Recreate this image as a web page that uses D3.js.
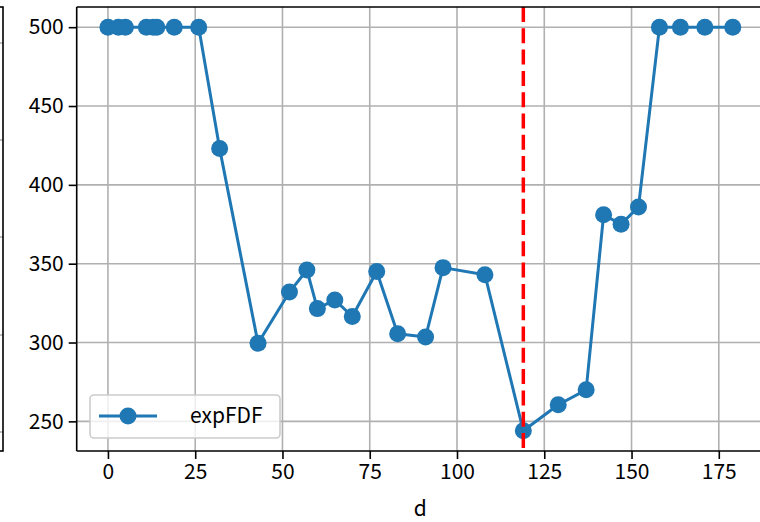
<!DOCTYPE html>
<html>
<head>
<meta charset="utf-8">
<script src="https://cdn.jsdelivr.net/npm/d3@7"></script>
<style>
  html, body { margin: 0; padding: 0; background: #fff; }
  svg { display: block; }
  text { font-family: "Noto Sans CJK JP", "DejaVu Sans", sans-serif; }
</style>
</head>
<body>
<svg id="chart" width="760" height="522"></svg>
<script>
// ---- data ----
const dValues = [0, 3, 5, 11, 13, 14, 19, 26, 32, 43, 52, 57, 60, 65, 70, 77, 83, 91, 96, 108, 119, 129, 137, 142, 147, 152, 158, 164, 171, 179];
const expFDF = [500, 500, 500, 500, 500, 500, 500, 500, 423, 299.5, 332, 346, 321.5, 327, 316.5, 345, 305.5, 303.5, 347.5, 343, 244, 260.5, 270, 381, 375, 386, 500, 500, 500, 500];
const xTicks = [0, 25, 50, 75, 100, 125, 150, 175];
const yTicks = [250, 300, 350, 400, 450, 500];
const markerLine = 119;
const seriesName = "expFDF";
const xLabel = "d";

(function () {
// ---- layout ----
const svg = d3.select("#chart");
const pL = 76.7, pR = 764, pT = 7, pB = 451;
const xMin = d3.min(dValues), xMax = d3.max(dValues);
const yMin = d3.min(expFDF), yMax = d3.max(expFDF);
const xPad = (xMax - xMin) * 0.05, yPad = (yMax - yMin) * 0.05;
const x = d3.scaleLinear().domain([xMin - xPad, xMax + xPad]).range([pL, pR]);
const y = d3.scaleLinear().domain([yMin - yPad, yMax + yPad]).range([pB, pT]);

const blue = "#1f77b4";

// cut-off neighbouring axes at far left
const stubs = [43, 140, 237, 335, 432];
svg.append("g").selectAll("line").data(stubs).join("line")
  .attr("x1", 0).attr("x2", 3).attr("y1", d => d).attr("y2", d => d)
  .attr("stroke", "#b0b0b0").attr("stroke-width", 1.6);
svg.append("rect").attr("x", -10).attr("y", pT).attr("width", 13).attr("height", pB - pT)
  .attr("fill", "none").attr("stroke", "#000").attr("stroke-width", 1.6);

// grid
const grid = svg.append("g");
grid.selectAll("line.gx").data(xTicks).join("line").attr("class", "gx")
  .attr("x1", d => x(d)).attr("x2", d => x(d)).attr("y1", pT).attr("y2", pB)
  .attr("stroke", "#b0b0b0").attr("stroke-width", 1.6);
grid.selectAll("line.gy").data(yTicks).join("line").attr("class", "gy")
  .attr("x1", pL).attr("x2", pR).attr("y1", d => y(d)).attr("y2", d => y(d))
  .attr("stroke", "#b0b0b0").attr("stroke-width", 1.6);

// series
const pts = dValues.map((d, i) => [d, expFDF[i]]);
const plot = svg.append("g");
plot.append("path").datum(pts)
  .attr("d", d3.line().x(d => x(d[0])).y(d => y(d[1])))
  .attr("fill", "none").attr("stroke", blue).attr("stroke-width", 3).attr("stroke-linejoin", "round");
plot.selectAll("circle").data(pts).join("circle")
  .attr("cx", d => x(d[0])).attr("cy", d => y(d[1])).attr("r", 8.5).attr("fill", blue);

// vertical dashed red line
svg.append("line").attr("x1", x(markerLine)).attr("x2", x(markerLine)).attr("y1", pT).attr("y2", pB)
  .attr("stroke", "red").attr("stroke-width", 3.5).attr("stroke-dasharray", "15,6.3");

// spines
svg.append("line").attr("x1", pL).attr("x2", pL).attr("y1", pT).attr("y2", pB).attr("stroke", "#000").attr("stroke-width", 1.6);
svg.append("line").attr("x1", pL).attr("x2", pR).attr("y1", pT).attr("y2", pT).attr("stroke", "#000").attr("stroke-width", 1.6);
svg.append("line").attr("x1", pL).attr("x2", pR).attr("y1", pB).attr("y2", pB).attr("stroke", "#000").attr("stroke-width", 1.6);

// axes
const fs = 21;
const xAxis = d3.axisBottom(x).tickValues(xTicks).tickSize(8).tickPadding(5).tickFormat(d3.format("d"));
const gx = svg.append("g").attr("transform", `translate(0,${pB})`).call(xAxis);
gx.select(".domain").remove();
gx.selectAll(".tick line").attr("stroke", "#000").attr("stroke-width", 1.6);
gx.selectAll(".tick text").attr("font-size", fs).attr("fill", "#000").attr("font-family", "'Noto Sans CJK JP', sans-serif");

const yAxis = d3.axisLeft(y).tickValues(yTicks).tickSize(8).tickPadding(5).tickFormat(d3.format("d"));
const gy = svg.append("g").attr("transform", `translate(${pL},0)`).call(yAxis);
gy.select(".domain").remove();
gy.selectAll(".tick line").attr("stroke", "#000").attr("stroke-width", 1.6);
gy.selectAll(".tick text").attr("font-size", fs).attr("fill", "#000").attr("font-family", "'Noto Sans CJK JP', sans-serif");

// x label
svg.append("text").attr("x", (pL + pR) / 2).attr("y", 516).attr("text-anchor", "middle")
  .attr("font-size", fs).attr("fill", "#000").text(xLabel);

// legend
const lg = svg.append("g");
lg.append("rect").attr("x", 90).attr("y", 395).attr("width", 190).attr("height", 43).attr("rx", 4)
  .attr("fill", "#fff").attr("fill-opacity", 0.8).attr("stroke", "#cccccc").attr("stroke-width", 1.6);
lg.append("line").attr("x1", 99).attr("x2", 157).attr("y1", 416).attr("y2", 416).attr("stroke", blue).attr("stroke-width", 3);
lg.append("circle").attr("cx", 128).attr("cy", 416).attr("r", 8.5).attr("fill", blue);
lg.append("text").attr("x", 190).attr("y", 423).attr("font-size", fs).attr("fill", "#000").text(seriesName);
})();
</script>
</body>
</html>
